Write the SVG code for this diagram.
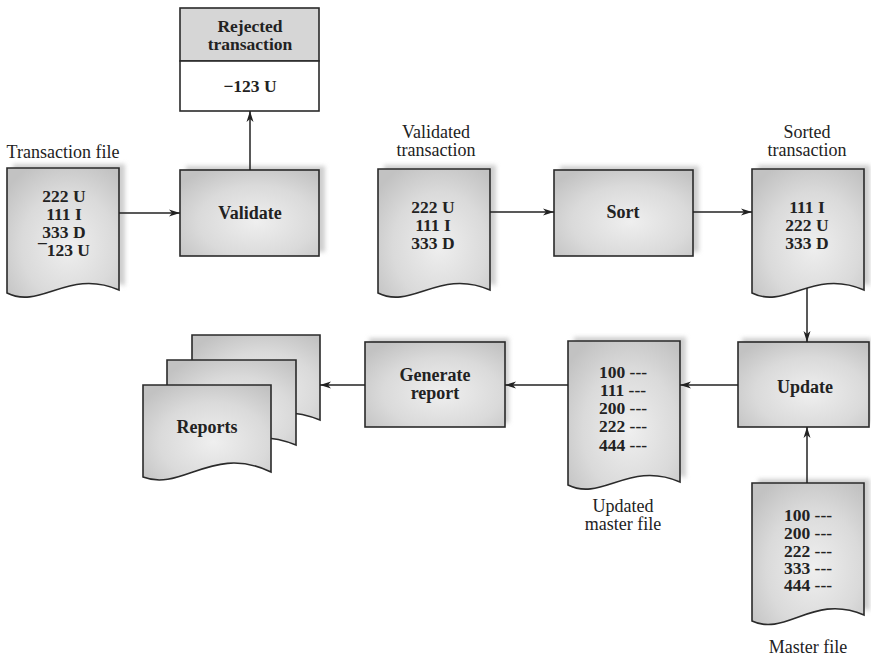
<svg xmlns="http://www.w3.org/2000/svg" width="871" height="657" viewBox="0 0 871 657">
<defs>
  <radialGradient id="gfill" cx="55%" cy="60%" r="70%">
    <stop offset="0" stop-color="#efefef"/>
    <stop offset="0.6" stop-color="#dadada"/>
    <stop offset="1" stop-color="#c2c2c2"/>
  </radialGradient>
  <filter id="blur" x="-10%" y="-10%" width="120%" height="120%">
    <feGaussianBlur stdDeviation="2"/>
  </filter>
  <marker id="arr" markerUnits="userSpaceOnUse" markerWidth="12" markerHeight="8" refX="11" refY="4" orient="auto">
    <path d="M0,0.5 L11,4 L0,7.5 L3,4 Z" fill="#222"/>
  </marker>
</defs>
<style>
  .shape { fill: url(#gfill); stroke: #2a2a2a; stroke-width: 1.6; }
  .shadow { fill: #cfcfcf; filter: url(#blur); }
  .num { font-family: "Liberation Serif", "Times New Roman", serif; font-weight: bold; font-size: 17.5px; fill: #222; text-anchor: middle; }
  .lbl { font-family: "Liberation Serif", "Times New Roman", serif; font-size: 18px; fill: #222; text-anchor: middle; }
  .ttl { font-family: "Liberation Serif", "Times New Roman", serif; font-weight: bold; font-size: 18px; fill: #222; text-anchor: middle; }
  .conn { stroke: #222; stroke-width: 1.5; fill: none; marker-end: url(#arr); }
</style>
<rect width="871" height="657" fill="#ffffff"/>

<g id="rejected">
  <rect x="180" y="8" width="139" height="53" fill="#d6d6d6" stroke="#2a2a2a" stroke-width="1.6"/>
  <rect x="180" y="61" width="139" height="50" fill="#ffffff" stroke="#2a2a2a" stroke-width="1.6"/>
  <text class="num" x="250" y="32">Rejected</text>
  <text class="num" x="250" y="50">transaction</text>
  <text class="num" x="250" y="92">−123 U</text>
</g>

<g id="transaction-file">
  <text class="lbl" x="63" y="158">Transaction file</text>
  <path class="shadow" d="M13,164 H125 V286 C74.6,264 46.6,306 13,288 Z"/>
  <path class="shape" d="M7,168 H119 V290 C68.6,268 40.6,310 7,293 Z"/>
  <text class="num" x="64" y="202">222 U</text>
  <text class="num" x="64" y="220">111 I</text>
  <text class="num" x="64" y="238">333 D</text>
  <text class="num" x="64" y="256">¯123 U</text>
</g>

<g id="validate">
  <rect class="shadow" x="186" y="166" width="139" height="86"/>
  <rect class="shape" x="180" y="170" width="139" height="86"/>
  <text class="ttl" x="250" y="219">Validate</text>
</g>

<g id="validated-transaction">
  <text class="lbl" x="436" y="138">Validated</text>
  <text class="lbl" x="436" y="156">transaction</text>
  <path class="shadow" d="M384,165 H496 V286 C445.6,264 417.6,306 384,288 Z"/>
  <path class="shape" d="M378,169 H490 V290 C439.6,268 411.6,310 378,293 Z"/>
  <text class="num" x="433" y="213">222 U</text>
  <text class="num" x="433" y="231">111 I</text>
  <text class="num" x="433" y="249">333 D</text>
</g>

<g id="sort">
  <rect class="shadow" x="560" y="166" width="139" height="86"/>
  <rect class="shape" x="554" y="170" width="139" height="86"/>
  <text class="ttl" x="623" y="218">Sort</text>
</g>

<g id="sorted-transaction">
  <text class="lbl" x="807" y="138">Sorted</text>
  <text class="lbl" x="807" y="156">transaction</text>
  <path class="shadow" d="M758,165 H870 V286 C819.6,264 791.6,306 758,288 Z"/>
  <path class="shape" d="M752,169 H864 V290 C813.6,268 785.6,310 752,293 Z"/>
  <text class="num" x="807" y="213">111 I</text>
  <text class="num" x="807" y="231">222 U</text>
  <text class="num" x="807" y="249">333 D</text>
</g>

<g id="update">
  <rect class="shadow" x="742" y="338" width="129" height="85"/>
  <rect class="shape" x="738" y="342" width="131" height="85"/>
  <text class="ttl" x="805" y="393">Update</text>
</g>

<g id="updated-master-file">
  <path class="shadow" d="M574,337 H686 V478 C635.6,456 607.6,498 574,480 Z"/>
  <path class="shape" d="M568,341 H680 V482 C629.6,460 601.6,502 568,485 Z"/>
  <text class="num" x="623" y="378">100 ---</text>
  <text class="num" x="623" y="396">111 ---</text>
  <text class="num" x="623" y="414">200 ---</text>
  <text class="num" x="623" y="432">222 ---</text>
  <text class="num" x="623" y="451">444 ---</text>
  <text class="lbl" x="623" y="512">Updated</text>
  <text class="lbl" x="623" y="530">master file</text>
</g>

<g id="master-file">
  <path class="shadow" d="M758,479 H870 V611 C819.6,589 791.6,631 758,615 Z"/>
  <path class="shape" d="M752,483 H864 V615 C813.6,593 785.6,637 752,621 Z"/>
  <text class="num" x="808" y="521">100 ---</text>
  <text class="num" x="808" y="539">200 ---</text>
  <text class="num" x="808" y="557">222 ---</text>
  <text class="num" x="808" y="574">333 ---</text>
  <text class="num" x="808" y="591">444 ---</text>
  <text class="lbl" x="808" y="653">Master file</text>
</g>

<g id="generate-report">
  <rect class="shadow" x="369" y="338" width="140" height="85"/>
  <rect class="shape" x="365" y="342" width="140" height="85"/>
  <text class="ttl" x="435" y="381">Generate</text>
  <text class="ttl" x="435" y="399">report</text>
</g>

<g id="reports">
  <path class="shape" d="M192,335 H320 V420 C262,396 230,440 192,425 Z"/>
  <path class="shape" d="M167,360 H296 V445 C238,421 206,465 167,450 Z"/>
  <path class="shape" d="M143,385 H271 V472 C213,444 182,492 143,477 Z"/>
  <text class="ttl" x="207" y="433">Reports</text>
</g>

<g id="connectors">
  <line class="conn" x1="119" y1="213" x2="180" y2="213"/>
  <line class="conn" x1="250" y1="170" x2="250" y2="111"/>
  <line class="conn" x1="490" y1="212" x2="554" y2="212"/>
  <line class="conn" x1="693" y1="212" x2="752" y2="212"/>
  <line class="conn" x1="807" y1="288" x2="807" y2="342"/>
  <line class="conn" x1="738" y1="385" x2="680" y2="385"/>
  <line class="conn" x1="568" y1="385" x2="505" y2="385"/>
  <line class="conn" x1="365" y1="385" x2="320" y2="385"/>
  <line class="conn" x1="807" y1="483" x2="807" y2="427"/>
</g>
</svg>
